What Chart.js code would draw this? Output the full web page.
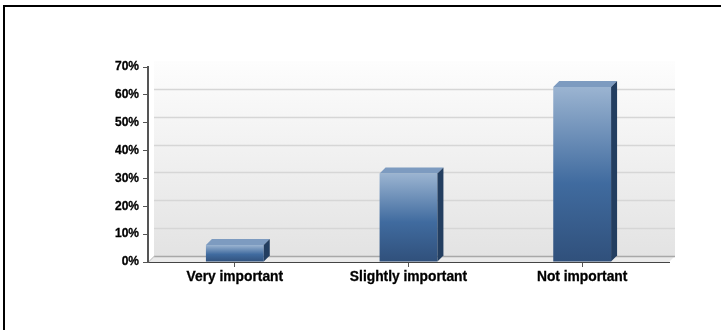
<!DOCTYPE html>
<html lang="en">

<head>
    <meta charset="UTF-8">
    <title>Importance chart</title>
    <style>
        html, body { margin: 0; padding: 0; background: #fff; }
        .frame { position: relative; width: 721px; height: 330px; overflow: hidden; }
        .frame:before { content: ""; position: absolute; left: 3px; top: 5px; right: 0; bottom: 0;
            border-left: 2px solid #000; border-top: 2px solid #000; }
        canvas { position: absolute; left: 0; top: 0; }
    </style>
    <script src="https://cdn.jsdelivr.net/npm/chart.js"></script>
</head>

<body>
    <div class="frame">
        <canvas id="chart" width="721" height="330"></canvas>
    </div>

    <script type="text/javascript">
        var categories = ["Very important", "Slightly important", "Not important"];
        var percentValues = [6.1, 31.8, 62.8];
        var tickMax = 70;
        var tickStep = 10;

        // depth of the fake 3d look
        var depthX = 6;
        var depthY = 6;

        var wallPlugin = {
            id: "wall",
            beforeDraw: function (chart) {
                var c = chart.ctx;
                var a = chart.chartArea;
                var y = chart.scales.y;

                var g = c.createLinearGradient(0, a.top - depthY, 0, a.bottom - depthY);
                g.addColorStop(0, "#fdfdfd");
                g.addColorStop(1, "#e3e3e3");
                c.fillStyle = g;
                c.fillRect(a.left + depthX, a.top - depthY, a.width, a.height);

                // floor
                c.fillStyle = "#eaeaea";
                c.beginPath();
                c.moveTo(a.left, a.bottom);
                c.lineTo(a.left + depthX, a.bottom - depthY);
                c.lineTo(a.right + depthX, a.bottom - depthY);
                c.lineTo(a.right, a.bottom);
                c.fill();

                // grid lines on the back wall
                y.ticks.forEach(function (t) {
                    if (t.value == tickMax) return;
                    var py = Math.round(y.getPixelForValue(t.value)) - depthY + 0.5;
                    c.strokeStyle = t.value == 0 ? "#a8a8a8" : "#d6d6d6";
                    c.lineWidth = 1.4;
                    c.beginPath();
                    c.moveTo(a.left + depthX, py);
                    c.lineTo(a.right + depthX, py);
                    c.stroke();
                });

                // edge of the left wall
                c.lineWidth = 1;
                c.strokeStyle = "#bdbdbd";
                c.beginPath();
                c.moveTo(a.left + 0.5, a.bottom);
                c.lineTo(a.left + depthX + 0.5, a.bottom - depthY);
                c.stroke();
                c.fillStyle = "#ffffff";
                c.fillRect(a.left + depthX - 1, a.top - depthY, 1, a.height - 1);
            },
            afterDatasetsDraw: function (chart) {
                var c = chart.ctx;
                chart.getDatasetMeta(0).data.forEach(function (bar) {
                    var r = bar.getProps(["x", "y", "base", "width"]);
                    var x1 = r.x - r.width / 2;
                    var x2 = r.x + r.width / 2;

                    // top face
                    c.fillStyle = "#7d9bc0";
                    c.beginPath();
                    c.moveTo(x1, r.y);
                    c.lineTo(x1 + depthX, r.y - depthY);
                    c.lineTo(x2 + depthX, r.y - depthY);
                    c.lineTo(x2, r.y);
                    c.fill();

                    // right face
                    c.fillStyle = "#233e60";
                    c.beginPath();
                    c.moveTo(x2, r.y);
                    c.lineTo(x2 + depthX, r.y - depthY);
                    c.lineTo(x2 + depthX, r.base - depthY);
                    c.lineTo(x2, r.base);
                    c.fill();
                });
            }
        };

        function barGradient(ctx) {
            var chart = ctx.chart;
            if (!chart.chartArea || ctx.raw === undefined) return "#3f6a9f";
            var top = chart.scales.y.getPixelForValue(ctx.raw);
            var g = chart.ctx.createLinearGradient(0, top, 0, chart.chartArea.bottom);
            g.addColorStop(0, "#9bb4d1");
            g.addColorStop(0.55, "#406b9f");
            g.addColorStop(1, "#30507b");
            return g;
        }

        new Chart(document.getElementById("chart"), {
            type: "bar",
            data: {
                labels: categories,
                datasets: [{
                    data: percentValues,
                    backgroundColor: barGradient,
                    borderWidth: 0,
                    categoryPercentage: 1,
                    barPercentage: 0.333
                }]
            },
            plugins: [wallPlugin],
            options: {
                responsive: false,
                animation: false,
                layout: { padding: { left: 0, top: 67, right: 52, bottom: 0 } },
                plugins: { legend: { display: false }, tooltip: { enabled: false } },
                scales: {
                    x: {
                        afterFit: function (s) { s.height = 68; },
                        border: { color: "#444444", width: 1 },
                        grid: { offset: false, drawOnChartArea: false, tickLength: 5, color: "#555555" },
                        ticks: {
                            color: "#000000",
                            padding: 2,
                            maxRotation: 0,
                            textStrokeColor: "#000000",
                            textStrokeWidth: 0.3,
                            font: { family: "'Liberation Sans'", size: 13.8, weight: "bold" }
                        }
                    },
                    y: {
                        min: 0,
                        max: tickMax,
                        afterFit: function (s) { s.width = 148; },
                        border: { color: "#555555", width: 2 },
                        grid: { drawOnChartArea: false, tickLength: 5, color: "#555555" },
                        ticks: {
                            stepSize: tickStep,
                            color: "#000000",
                            padding: 4,
                            textStrokeColor: "#000000",
                            textStrokeWidth: 0.3,
                            font: { family: "'Liberation Sans'", size: 12, weight: "bold" },
                            callback: function (v) { return v + "%"; }
                        }
                    }
                }
            }
        });
    </script>
</body>

</html>
